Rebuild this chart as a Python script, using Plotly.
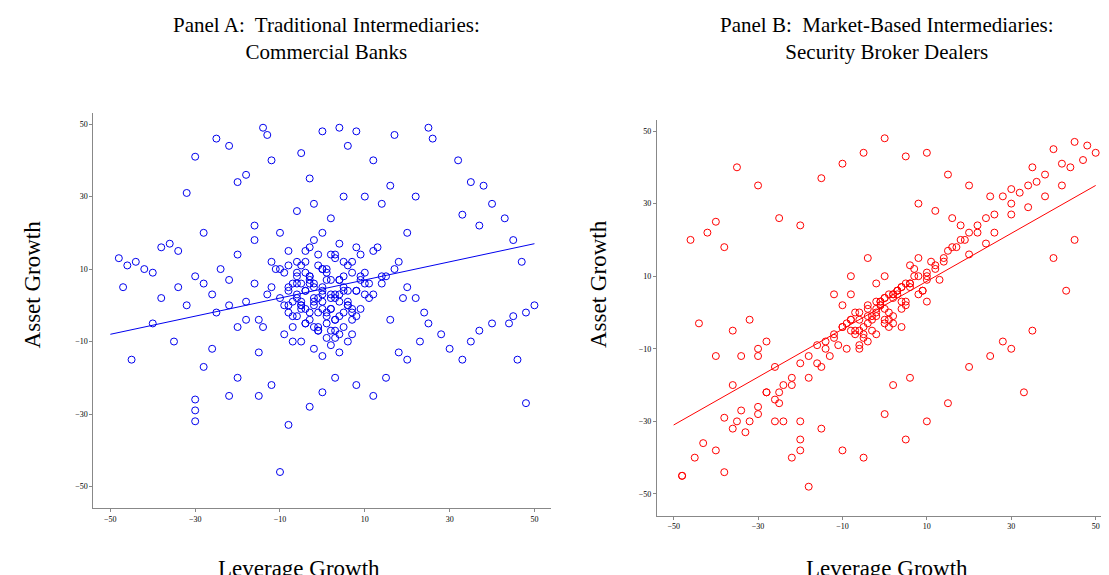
import plotly.graph_objects as go
from plotly.subplots import make_subplots

# Panel A: commercial banks (leverage growth, asset growth)
a_x = [-48,-46,-44,-42,-40,-38,-36,-34,-32,-30,-28,-25,-22,-20,-18,-16,-14,-13,-12,-5,-3,0,4,6,8,12,17,25,26,32,35,38,40,43,45,47,50,48,45,44,40,37,35,33,46,30,28,25,23,20,18,15,12,8,3,0,-3,-8,-12,-15,-20,-22,-26,-28,-30,-30,-30,-35,-40,-45,-47,-38,-34,-30,-26,-22,-18,-15,-10,48,37,33,22,20,16,14,10,5,2,-2,-6,-10,-8,-20,-24,-28,-32,-16,
       -9,-8,-7,-6,-5,-4,-3,-2,-1,0,1,2,3,4,5,6,7,8,9,10,-9,-7,-5,-3,-1,1,3,5,7,9,11,13,-12,-10,-8,-6,-4,-2,0,2,4,6,8,10,12,14,-6,-4,-2,0,2,4,6,-11,-3,3,11,15,18,-14,-13,16,19,-7,-1,5,9,-5,7,0,2,-2,4,-4,6,1,-6,8,3,-8,10,
       -8,-6,-4,-2,0,2,4,6,-7,-5,-3,-1,1,3,5,7,-6,-4,-2,0,2,4,-9,-5,-1,3,7,-3,1,5,-10,-8,-6,-4,-2,0,2,4,6,8,-5,-3,-1,1,3,-2,0,2,-4,4,-7,7,-1,1,-3,3,0,5,-5,9,12,14,17,20,22,24,-15,-18,-20,-22,-25,-12,-16,13,18,21]
a_y = [13,11,12,10,9,16,17,15,31,41,20,46,44,34,36,22,49,47,40,42,35,48,49,44,48,40,47,49,46,40,34,33,28,24,18,12,0,-2,-3,-5,-5,-7,-10,-15,-15,-12,-8,-5,-10,-15,-13,-20,-25,-22,-20,-24,-28,-33,-22,-25,-20,-25,-12,-17,-29,-32,-26,-10,-5,-15,5,2,5,8,3,0,-4,-13,-46,-27,22,25,30,20,33,28,30,30,24,28,26,20,15,14,10,6,0,6,
       0,4,-3,6,1,-5,8,2,-2,5,10,-1,3,7,12,0,9,4,14,6,-8,-6,-10,-4,-7,-3,-9,-6,-2,-1,2,16,5,2,-2,12,15,18,20,14,17,11,16,9,15,8,3,9,-12,-14,-11,-13,-10,10,-2,13,6,8,12,-6,3,-4,2,1,11,5,7,0,-4,4,-7,6,3,-1,1,-9,8,-3,
       2,0,3,5,2,4,1,3,-1,1,4,6,0,6,2,-2,-4,-2,-1,-3,-5,-6,1,3,7,9,11,-6,-7,-8,7,9,8,10,11,9,12,5,10,7,-3,0,4,6,8,-7,-5,-4,0,-1,2,4,-8,-10,12,14,7,16,14,10,4,-1,8,3,6,10,5,2,-2,-4,1,-6,7,-2,12,18]

# Panel B: security broker dealers
b_x = [-48,-45,-43,-40,-38,-35,-33,-30,-28,-25,-22,-20,-18,-15,-46,-42,-38,-36,-34,-32,-30,-28,-26,-24,-22,-20,-40,-35,-30,-25,-20,-15,-10,-5,0,5,10,15,20,25,30,35,40,45,48,50,47,44,42,38,36,34,32,30,28,26,24,22,20,18,16,14,12,10,45,40,35,30,25,20,15,10,5,0,-5,-10,-15,-20,-25,-30,-18,-12,-8,-4,2,6,8,12,16,-44,-40,-36,-48,-26,28,33,43,
       -14,-12,-10,-8,-6,-4,-2,0,2,4,6,8,10,12,14,-13,-11,-9,-7,-5,-3,-1,1,3,5,7,9,11,13,15,17,19,-10,-6,-2,2,6,10,-4,0,4,8,-8,-16,18,22,0,-2,3,1,-5,5,-7,7,-1,9,
       -20,-18,-16,-14,-12,-10,-8,-6,-4,-2,0,2,4,6,8,10,-9,-7,-5,-3,-1,1,3,5,-6,-4,-2,0,2,4,-3,-1,1,3,-22,-24,-26,-28,-30,-32,-34,-36,-38,20,24,26,30,34,38,42,-8,-6,-4,-2,0,2,4,6]
b_y = [-45,-40,-36,-38,-44,-30,-33,-28,-22,-25,-20,-35,-18,-15,20,22,18,-5,-12,-2,-10,-8,-15,-30,-40,-38,25,40,35,26,24,37,41,44,48,43,44,38,35,32,34,40,45,47,46,44,42,40,41,38,36,35,33,30,32,27,26,24,22,20,18,14,12,10,20,15,-5,-10,-12,-15,-25,-30,-35,-28,-40,-38,-32,-30,-22,-12,-48,5,10,15,-20,-18,30,28,26,-3,-12,-20,-45,-30,-8,-22,6,
       -8,-6,-4,-2,0,1,3,4,5,7,8,10,11,13,15,-12,-9,-10,-6,-4,-1,2,0,6,3,10,6,14,9,17,18,20,2,-10,8,-3,13,3,-8,10,-4,15,5,-14,24,22,-2,1,6,5,-6,8,-5,12,3,6,
       -14,-12,-9,-10,-7,-4,-5,-2,-3,0,1,4,3,7,5,9,-3,0,-7,-5,2,-2,5,2,-9,-1,-6,4,-1,7,-2,3,-4,6,-18,-20,-24,-22,-26,-30,-27,-32,-29,16,19,22,27,29,32,35,-2,-5,2,-1,-3,5,1,8]

a_line_x = [-50, 50]; a_line_y = [-8, 17]
b_line_x = [-50, 50]; b_line_y = [-31, 35]

fig = make_subplots(rows=1, cols=2)
fig.add_trace(go.Scatter(x=a_x, y=a_y, mode="markers",
    marker=dict(symbol="circle-open", size=7, color="#0000ee", line=dict(width=1))), 1, 1)
fig.add_trace(go.Scatter(x=a_line_x, y=a_line_y, mode="lines", line=dict(color="#0000ee", width=1)), 1, 1)
fig.add_trace(go.Scatter(x=b_x, y=b_y, mode="markers",
    marker=dict(symbol="circle-open", size=7, color="#ff0000", line=dict(width=1))), 1, 2)
fig.add_trace(go.Scatter(x=b_line_x, y=b_line_y, mode="lines", line=dict(color="#ff0000", width=1)), 1, 2)

ax = dict(showgrid=False, zeroline=False, showline=True, linecolor="#888", ticks="outside",
          ticklen=3, tickcolor="#888", tickfont=dict(size=8, family="Liberation Serif", color="black"),
          tickvals=[-50,-30,-10,10,30,50])
fig.update_xaxes(**ax, range=[-54, 54])
fig.update_yaxes(**ax, range=[-56, 53])
fig.update_layout(
    width=1109, height=575, showlegend=False, plot_bgcolor="white", paper_bgcolor="white",
    margin=dict(l=0, r=0, t=0, b=0),
    xaxis=dict(domain=[0.077, 0.49]), yaxis=dict(domain=[0.13, 0.817]),
    xaxis2=dict(domain=[0.585, 0.996]), yaxis2=dict(domain=[0.117, 0.805]),
    font=dict(family="Liberation Serif", color="black"),
)
for txt, x in [("Panel A:  Traditional Intermediaries:<br>Commercial Banks", 0.287),
               ("Panel B:  Market-Based Intermediaries:<br>Security Broker Dealers", 0.793)]:
    fig.add_annotation(text=txt, x=x, y=0.995, xref="paper", yref="paper", showarrow=False,
                       font=dict(size=21), yanchor="top", xanchor="center")
for x in [0.262, 0.793]:
    fig.add_annotation(text="Leverage Growth", x=x, y=0.0, xref="paper", yref="paper",
                       showarrow=False, font=dict(size=23), yanchor="bottom", xanchor="center")
for x in [0.022, 0.532]:
    fig.add_annotation(text="Asset Growth", x=x, y=0.52, xref="paper", yref="paper",
                       showarrow=False, font=dict(size=23), textangle=-90, xanchor="center")
fig.write_html("out.html")
